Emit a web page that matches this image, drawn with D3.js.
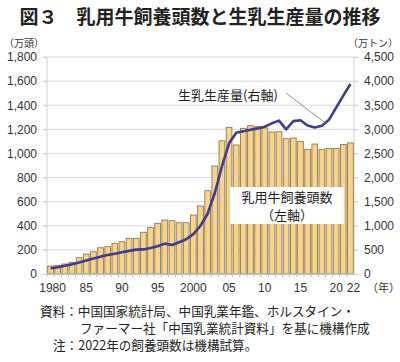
<!DOCTYPE html>
<html><head><meta charset="utf-8">
<script src="https://cdn.jsdelivr.net/npm/d3@7"></script>
<style>
body{margin:0;background:#fff;}
svg{display:block;}
</style></head>
<body>
<svg id="c" width="400" height="362"></svg>
<script>
const years = d3.range(1980, 2023);
const heads = [66,72,83,97,135,166,185,218,227,254,
  268,296,296,346,385,420,448,442,425,425,
  489,564,691,896,1105,1216,1070,1208,1230,1222,
  1212,1178,1180,1122,1128,1100,1034,1078,1034,1042,
  1042,1075,1087];
const milk = [118,140,170,200,240,280,320,360,395,420,
  450,480,505,510,540,575,630,601,660,720,
  827,1000,1250,1680,2230,2710,2930,2960,2990,3020,
  3055,3125,3180,3000,3170,3190,3080,3040,3075,3200,
  3450,3700,3940];
const leftTicks = d3.range(0, 1801, 200);
const rightTicks = d3.range(0, 4501, 500);
const xTickYears = [1980,1985,1990,1995,2000,2005,2010,2015,2020,2022];
const xTickText = ["1980","85","90","95","2000","05","10","15","20","22"];

const svg = d3.select("#c");
const L = 47, R = 354, T = 57, B = 274;
const numFont = "'Liberation Sans', Arial, 'Noto Sans CJK JP', sans-serif";
const jpFont = "'Noto Sans CJK JP', sans-serif";

const x = d3.scaleBand().domain(years).range([L, R]).paddingInner(0.2).paddingOuter(0.1);
const yL = d3.scaleLinear().domain([0, 1800]).range([B, T]);
const yR = d3.scaleLinear().domain([0, 4500]).range([B, T]);

// title
svg.append("text").attr("x", 200).attr("y", 24).attr("text-anchor", "middle")
  .attr("font-family", jpFont).attr("font-weight", "bold").attr("font-size", 19)
  .attr("fill", "#222").text("図３　乳用牛飼養頭数と生乳生産量の推移");

// units
svg.append("text").attr("x", 4).attr("y", 47).attr("font-family", jpFont)
  .attr("font-size", 10).attr("fill", "#333").text("（万頭）");
svg.append("text").attr("x", 398).attr("y", 47).attr("text-anchor", "end").attr("font-family", jpFont)
  .attr("font-size", 10).attr("fill", "#333").text("（万トン）");

// gridlines
svg.append("g").selectAll("line").data(leftTicks.slice(1)).join("line")
  .attr("x1", L - 4).attr("x2", R + 4).attr("y1", d => yL(d)).attr("y2", d => yL(d))
  .attr("stroke", "#d9d9d9").attr("stroke-width", 1);

// vertical axis lines
svg.append("line").attr("x1", L).attr("x2", L).attr("y1", T).attr("y2", B).attr("stroke", "#d0d0d0");
svg.append("line").attr("x1", R).attr("x2", R).attr("y1", T).attr("y2", B).attr("stroke", "#d0d0d0");

// left axis
const gl = svg.append("g").attr("transform", `translate(${L},0)`)
  .call(d3.axisLeft(yL).tickValues(leftTicks).tickFormat(d3.format(",")).tickSize(4).tickPadding(6));
gl.select(".domain").remove();
gl.selectAll(".tick line").attr("stroke", "#d0d0d0");
gl.selectAll("text").attr("font-family", numFont).attr("font-size", 12).attr("fill", "#333");

// right axis
const gr = svg.append("g").attr("transform", `translate(${R},0)`)
  .call(d3.axisRight(yR).tickValues(rightTicks).tickFormat(d3.format(",")).tickSize(4).tickPadding(6));
gr.select(".domain").remove();
gr.selectAll(".tick line").attr("stroke", "#d0d0d0");
gr.selectAll("text").attr("font-family", numFont).attr("font-size", 12).attr("fill", "#333");

// bars
svg.append("g").selectAll("rect").data(years).join("rect")
  .attr("x", d => x(d)).attr("width", x.bandwidth())
  .attr("y", (d, i) => yL(heads[i])).attr("height", (d, i) => B - yL(heads[i]))
  .attr("fill", "#F8D38E").attr("stroke", "#8d7b52").attr("stroke-width", 0.9);

// bottom axis
const step = x.step();
svg.append("line").attr("x1", L).attr("x2", R).attr("y1", B).attr("y2", B).attr("stroke", "#bdbdbd");
svg.append("g").selectAll("line").data(years).join("line")
  .attr("x1", d => x(d) - step * 0.1).attr("x2", d => x(d) - step * 0.1)
  .attr("y1", B).attr("y2", B + 3).attr("stroke", "#bdbdbd");
svg.append("g").selectAll("text").data(xTickYears).join("text")
  .attr("x", d => x(d) + x.bandwidth() / 2 + (d === 2022 ? 3 : (d === 1980 ? 2 : 0)))
  .attr("y", 292).attr("text-anchor", "middle")
  .attr("font-family", numFont).attr("font-size", 12).attr("fill", "#333")
  .text((d, i) => xTickText[i]);
svg.append("text").attr("x", 367).attr("y", 292).attr("font-family", jpFont)
  .attr("font-size", 11).attr("fill", "#333").text("（年）");

// milk line
const line = d3.line().x((d, i) => x(years[i]) + x.bandwidth() / 2).y(d => yR(d));
svg.append("path").datum(milk).attr("d", line).attr("fill", "none")
  .attr("stroke", "#3d3d8f").attr("stroke-width", 2.6).attr("stroke-linejoin", "round");

// annotation for milk
svg.append("text").attr("x", 178).attr("y", 100).attr("font-family", jpFont)
  .attr("font-size", 13).attr("fill", "#222").text("生乳生産量(右軸)");
svg.append("line").attr("x1", 286).attr("y1", 93).attr("x2", x(2019)).attr("y2", yR(3120))
  .attr("stroke", "#777").attr("stroke-width", 0.8);

// label box for heads
svg.append("rect").attr("x", 230).attr("y", 187).attr("width", 114).attr("height", 37).attr("fill", "#fff");
svg.append("text").attr("x", 287).attr("y", 202).attr("text-anchor", "middle").attr("font-family", jpFont)
  .attr("font-size", 13).attr("fill", "#222").text("乳用牛飼養頭数");
svg.append("text").attr("x", 287).attr("y", 220).attr("text-anchor", "middle").attr("font-family", jpFont)
  .attr("font-size", 13).attr("fill", "#222").text("（左軸）");

// notes
const notes = [
  {x: 40, y: 316, t: "資料：中国国家統計局、中国乳業年鑑、ホルスタイン・"},
  {x: 80, y: 333, t: "ファーマー社「中国乳業統計資料」を基に機構作成"},
  {x: 53, y: 350, t: "注：2022年の飼養頭数は機構試算。"}
];
svg.append("g").selectAll("text").data(notes).join("text")
  .attr("x", d => d.x).attr("y", d => d.y).attr("font-family", jpFont)
  .attr("font-size", 12.6).attr("fill", "#222").text(d => d.t);
</script>
</body></html>
